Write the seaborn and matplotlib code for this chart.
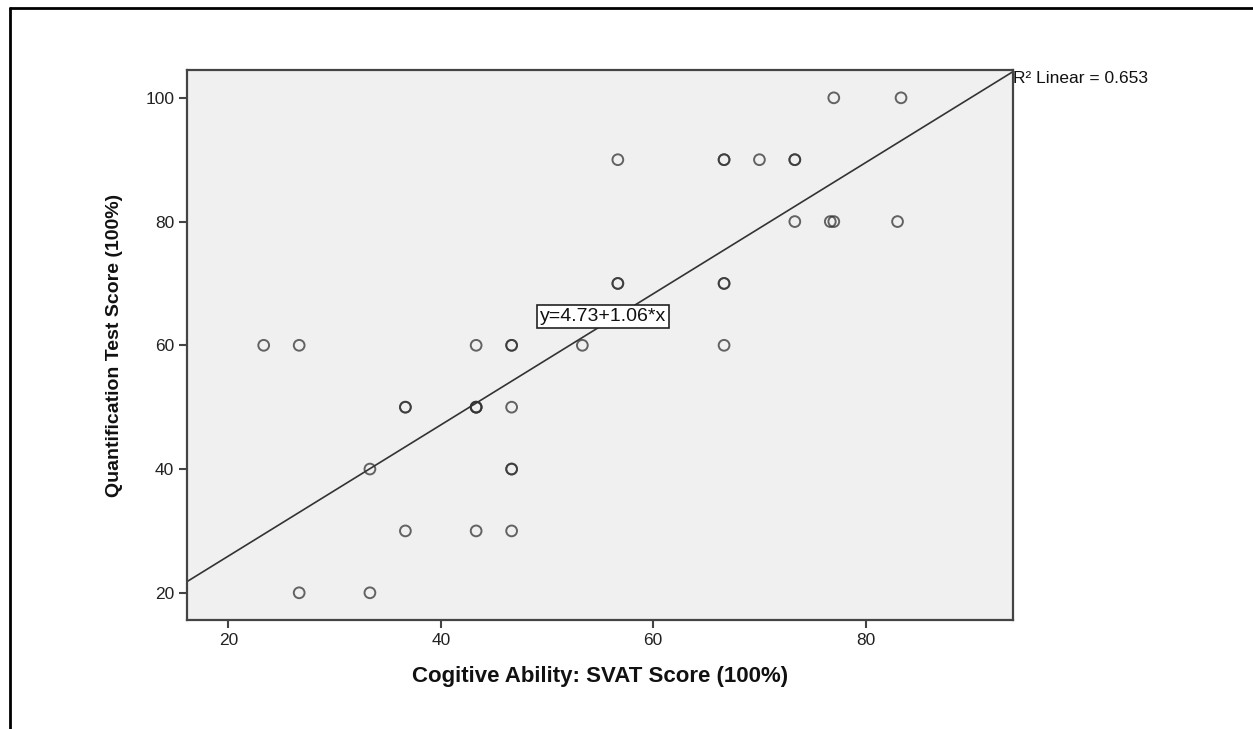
import pandas as pd
import matplotlib.pyplot as plt
from matplotlib.lines import Line2D
import seaborn as sns

# scores (duplicates are overlapping points)
svat = [77.0, 83.33,
        56.67, 66.67, 66.67, 70.0, 73.33, 73.33,
        73.33, 76.67, 77.0, 83.0,
        56.67, 56.67, 66.67, 66.67,
        23.33, 26.67, 43.33, 46.67, 46.67, 53.33, 66.67,
        36.67, 36.67, 43.33, 43.33, 43.33, 46.67,
        33.33, 46.67, 46.67,
        36.67, 43.33, 46.67,
        26.67, 33.33]
quant = [100, 100,
         90, 90, 90, 90, 90, 90,
         80, 80, 80, 80,
         70, 70, 70, 70,
         60, 60, 60, 60, 60, 60, 60,
         50, 50, 50, 50, 50, 50,
         40, 40, 40,
         30, 30, 30,
         20, 20]

intercept = 4.73
slope = 1.06
r2 = 0.653

df = pd.DataFrame({"svat": svat, "quant": quant})

sns.set_style("ticks")
plt.rcParams['font.family'] = ['Liberation Sans', 'DejaVu Sans']

fig = plt.figure(figsize=(12.53, 7.29), dpi=100)
ax = fig.add_axes([0.1495, 0.1495, 0.6587, 0.7545])
ax.set_facecolor("#f0f0f0")

sns.scatterplot(data=df, x="svat", y="quant", ax=ax, marker="o", s=60,
                facecolor="none", edgecolor=(0.2, 0.2, 0.2, 0.75), linewidth=1.4)

xlim = (16.14, 93.84)
ylim = (15.6, 104.5)
ax.plot(list(xlim), [intercept + slope * v for v in xlim], color="#333333", lw=1.2)
ax.set_xlim(*xlim)
ax.set_ylim(*ylim)

ax.set_xticks([20, 40, 60, 80])
ax.set_yticks([20, 40, 60, 80, 100])
for s in ax.spines.values():
    s.set_color("#444444")
    s.set_linewidth(1.6)
ax.tick_params(direction="out", length=6, width=1.5, color="#444444", labelcolor="#222222")
for lab in ax.get_xticklabels():
    lab.set_fontsize(12.5)
for lab in ax.get_yticklabels():
    lab.set_fontsize(12.5)

ax.set_xlabel("Cogitive Ability: SVAT Score (100%)", fontsize=16, fontweight="bold",
              color="#111111", labelpad=13)
ax.set_ylabel("Quantification Test Score (100%)", fontsize=14, fontweight="bold",
              color="#111111", labelpad=16)

ax.text(55.3, 64.6, f"y={intercept}+{slope}*x", ha="center", va="center", fontsize=14,
        color="#111111",
        bbox=dict(boxstyle="square,pad=0.15", fc="white", ec="#222222", lw=1.2))
ax.text(1.001, 0.985, f"R² Linear = {r2}", transform=ax.transAxes, ha="left", va="center",
        fontsize=12.5, color="#111111")

# outer frame lines
fig.add_artist(Line2D([10 / 1253, 10 / 1253], [0, 1 - 8 / 729], color="black", lw=2))
fig.add_artist(Line2D([10 / 1253, 1], [1 - 8 / 729, 1 - 8 / 729], color="black", lw=2))

fig.savefig("out.png", dpi=100)
